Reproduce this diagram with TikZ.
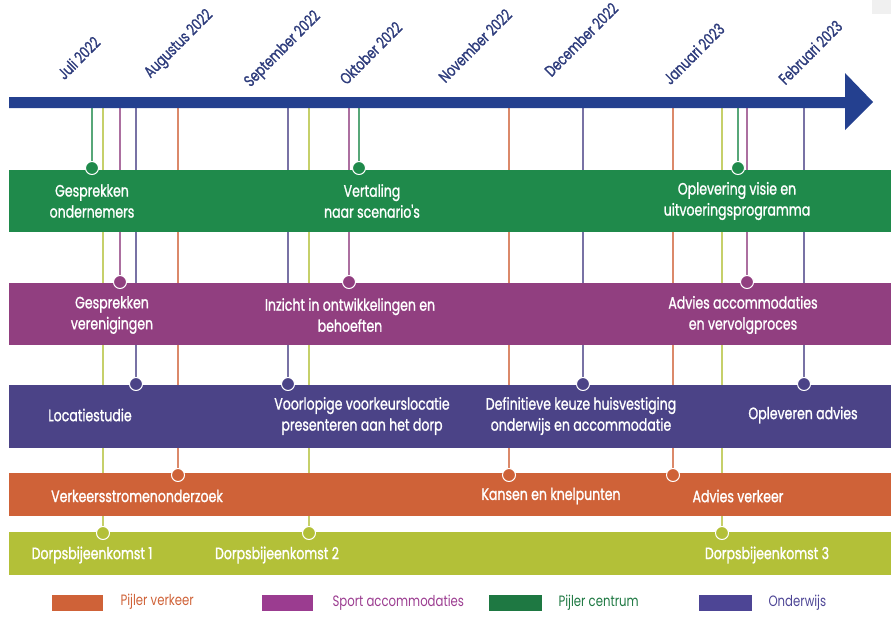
\documentclass[tikz,border=0pt]{standalone}
\usepackage{fontspec}
\setmainfont{Poppins}[FakeStretch=0.78]
\newfontfamily\bandfont{Poppins}[FakeStretch=0.76,FakeBold=1.2]
\definecolor{cgreen}{RGB}{31,138,75}
\definecolor{cpurple}{RGB}{145,63,128}
\definecolor{cblue}{RGB}{75,67,135}
\definecolor{corange}{RGB}{207,98,56}
\definecolor{cyellow}{RGB}{179,192,56}
\definecolor{arrowblue}{RGB}{36,64,143}
\definecolor{monthblue}{RGB}{46,60,124}
\definecolor{lgreen}{RGB}{30,120,66}
\definecolor{lpurple}{RGB}{155,60,144}
\definecolor{lblue}{RGB}{77,69,149}

\begin{document}
\begin{tikzpicture}[x=1pt,y=-1pt,
	lbl/.style={text=white,align=center,font=\bandfont\fontsize{16.5}{21}\selectfont},
	month/.style={rotate=45,anchor=base west,text=monthblue,font=\bandfont\fontsize{16}{18}\selectfont},
	dot/.style={circle,draw=white,line width=1pt,inner sep=0pt,minimum size=13pt},
	legtxt/.style={anchor=west,font=\fontsize{15}{17}\selectfont}]
\useasboundingbox (0,0) rectangle (891,616);
\fill[gray!12] (872,0) rectangle (891,14);

% milestones: x / y / colour
\def\milestones{92/168/cgreen, 359/168/cgreen, 738/168/cgreen,
	120/282/cpurple, 349/282/cpurple, 747/282/cpurple,
	136/384/cblue, 288/384/cblue, 583/384/cblue, 804/384/cblue,
	178/475/corange, 509/475/corange, 673/475/corange,
	103/533/cyellow, 309/533/cyellow, 722/533/cyellow}

\foreach \x/\y/\c in \milestones
{
	\coordinate (top\x) at (\x,108);
	\coordinate (ms\x) at (\x,\y);
	\draw[\c!75,line width=1.2pt] (top\x) -- (ms\x);
};

% bands
\fill[cgreen] (9,170) rectangle (891,232);
\fill[cpurple] (9,283) rectangle (891,345);
\fill[cblue] (9,385) rectangle (891,448);
\fill[corange] (9,473) rectangle (891,516);
\fill[cyellow] (9,532) rectangle (891,575);

\foreach \x/\y/\c in \milestones
{
	\node[dot,fill=\c] (dot\x) at (ms\x) {};
};

% timeline arrow
\fill[arrowblue] (9,97) -- (845,97) -- (845,73) -- (873,102) -- (845,130) -- (845,108) -- (9,108) -- cycle;

\node[month] (jul) at (62,83) {Juli 2022};
\node[month] (aug) at (148,81) {Augustus 2022};
\node[month] (sep) at (248,90) {September 2022};
\node[month] (okt) at (344,88) {Oktober 2022};
\node[month] (nov) at (443,86) {November 2022};
\node[month] (dec) at (549,80) {December 2022};
\node[month] (jan) at (668,88) {Januari 2023};
\node[month] (feb) at (783,88) {Februari 2023};

% texts
\node[lbl] (gond) at (92,201) {Gesprekken\\ondernemers};
\node[lbl] (vert) at (372,201) {Vertaling\\naar scenario's};
\node[lbl] (oplv) at (737,201) {Oplevering visie en\\uitvoeringsprogramma};
\node[lbl] (gver) at (112,315) {Gesprekken\\verenigingen};
\node[lbl] (inz) at (350,315) {Inzicht in ontwikkelingen en\\behoeften};
\node[lbl] (advacc) at (743,315) {Advies accommodaties\\en vervolgproces};
\node[lbl] (loc) at (90,415) {Locatiestudie};
\node[lbl] (voorl) at (362,416) {Voorlopige voorkeurslocatie\\presenteren aan het dorp};
\node[lbl] (defk) at (581,416) {Definitieve keuze huisvestiging\\onderwijs en accommodatie};
\node[lbl] (oplad) at (803,415) {Opleveren advies};
\node[lbl] (verk) at (137,496) {Verkeersstromenonderzoek};
\node[lbl] (kans) at (551,496) {Kansen en knelpunten};
\node[lbl] (advv) at (738,496) {Advies verkeer};
\node[lbl] (dorp1) at (92,555) {Dorpsbijeenkomst 1};
\node[lbl] (dorp2) at (277,555) {Dorpsbijeenkomst 2};
\node[lbl] (dorp3) at (767,555) {Dorpsbijeenkomst 3};

% legend
\fill[corange] (52,595) rectangle (103,611);
\node[legtxt,text=corange] (leg1) at (117,602) {Pijler verkeer};
\fill[lpurple] (262,595) rectangle (313,611);
\node[legtxt,text=lpurple] (leg2) at (329,603) {Sport accommodaties};
\fill[lgreen] (489,595) rectangle (542,611);
\node[legtxt,text=lgreen] (leg3) at (555,603) {Pijler centrum};
\fill[lblue] (699,595) rectangle (752,611);
\node[legtxt,text=lblue] (leg4) at (765,603) {Onderwijs};

\end{tikzpicture}
\end{document}
